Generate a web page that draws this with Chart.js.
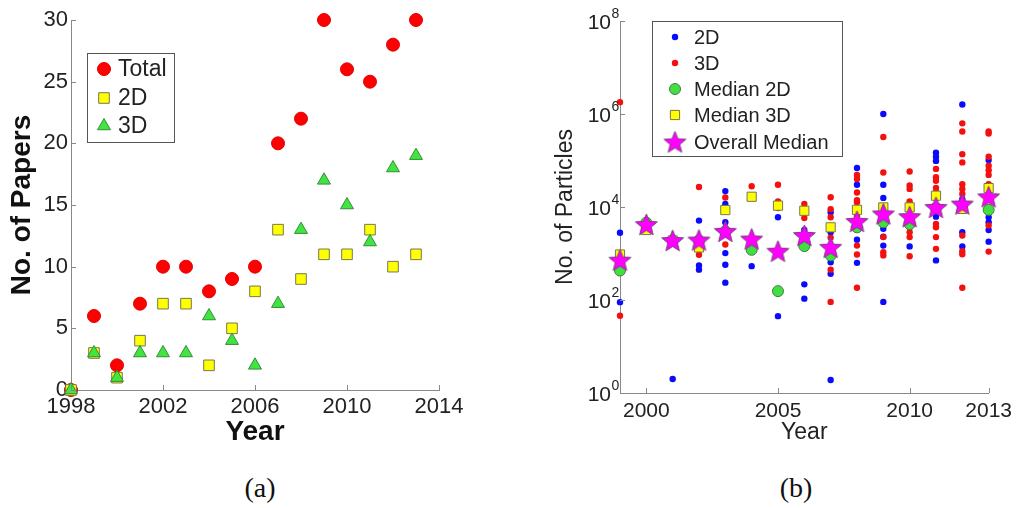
<!DOCTYPE html>
<html>
<head>
<meta charset="utf-8">
<script src="https://cdn.jsdelivr.net/npm/chart.js@4.4.1/dist/chart.umd.min.js"></script>
<style>
  html, body { margin: 0; padding: 0; background: #fff; }
  #wrap { position: relative; width: 1018px; height: 508px; overflow: hidden; background: #fff; }
  #cA { position: absolute; left: 0; top: 0; }
  #cB { position: absolute; left: 520px; top: 0; }
  .cap { position: absolute; top: 472px; width: 80px; text-align: center;
         font-family: 'Liberation Serif', 'Times New Roman', serif; font-size: 28px; color: #111; }
</style>
</head>
<body>
<div id="wrap">
  <canvas id="cA" width="500" height="470"></canvas>
  <canvas id="cB" width="498" height="470"></canvas>
  <div class="cap" style="left:220px">(a)</div>
  <div class="cap" style="left:756px">(b)</div>
</div>
<script>
// ---- (a) number of papers per year ----
const paperYears  = [1998, 1999, 2000, 2001, 2002, 2003, 2004, 2005, 2006, 2007, 2008, 2009, 2010, 2011, 2012, 2013];
const papersTotal = [0, 6, 2, 7, 10, 10, 8, 9, 10, 20, 22, 30, 26, 25, 28, 30];
const papers2D    = [0, 3, 1, 4, 7, 7, 2, 5, 8, 13, 9, 11, 11, 13, 10, 11];
const papers3D    = [0, 3, 1, 3, 3, 3, 6, 4, 2, 7, 13, 17, 15, 12, 18, 19];
const yearTicksA  = [1998, 2002, 2006, 2010, 2014];
const paperTicks  = [0, 5, 10, 15, 20, 25, 30];

// ---- (b) number of particles per paper, by year ----
const particleYears = [1999, 2000, 2001, 2002, 2003, 2004, 2005, 2006, 2007, 2008, 2009, 2010, 2011, 2012, 2013];
const particles2D = [
  [2800, 90],
  [],
  [2],
  [5100, 550, 450],
  [22000, 11600, 4700, 1020, 575, 236],
  [535],
  [6000, 45],
  [3200, 217, 107],
  [7700, 2860, 650, 365, 1.9],
  [69000, 30000, 1970, 630],
  [1000000, 30000, 15700, 3400, 2300, 1480, 91],
  [1420],
  [148000, 120000, 98000, 6200, 710],
  [1600000, 14800, 2860, 1420],
  [102000, 6000, 4700, 3200, 1800]
];
const particles3D = [
  [1800000, 46],
  [],
  [],
  [27000, 940],
  [16000, 1560],
  [28000],
  [30000, 13200, 9500],
  [11600, 9000, 5800],
  [16200, 9000, 6000, 2200, 450, 91],
  [49000, 40000, 20500, 14000, 12600, 6500, 1480, 950, 184],
  [320000, 55000, 9800, 2250, 1060, 910],
  [58000, 29000, 24500, 13200, 11600, 3650, 2860, 2250, 870],
  [66000, 43500, 36500, 25800, 21000, 4300, 3650, 2250, 1260],
  [630000, 420000, 137000, 91000, 31000, 24500, 19000, 2440, 1120, 960, 184],
  [420000, 380000, 120000, 77000, 62000, 49000, 31000, 4000, 1100]
];
const median2D  = [430, 4600, 1900, 1900, 3000, 1200, 155, 1440, 910, 3650, 4700, 4300, 9500, 11000, 8700];
const median3D  = [950, 3200, 1900, 1350, 8600, 16600, 10700, 8300, 3650, 8700, 9800, 9800, 17500, 9100, 25500];
const medianAll = [720, 4200, 1900, 1950, 3000, 2050, 1120, 2440, 1360, 4900, 7100, 6200, 9800, 11600, 16600];
const yearTicksB = [2000, 2005, 2010, 2013];
const particleTickExps = [0, 2, 4, 6, 8];

const FONT = "'Liberation Sans', Arial, sans-serif";
Chart.defaults.font.family = FONT;
Chart.defaults.color = '#222';

// filled five-pointed star used as a point glyph
function makeStar(R, ratio, fill, stroke) {
  const size = Math.ceil(2 * R + 4);
  const c = document.createElement('canvas');
  c.width = size; c.height = size;
  const g = c.getContext('2d');
  const cx = size / 2, cy = size / 2 + R * 0.08;
  g.beginPath();
  for (let i = 0; i < 10; i++) {
    const a = -Math.PI / 2 + i * Math.PI / 5;
    const rr = (i % 2) ? R * ratio : R;
    g.lineTo(cx + rr * Math.cos(a), cy + rr * Math.sin(a));
  }
  g.closePath();
  g.fillStyle = fill; g.fill();
  g.lineWidth = 1; g.strokeStyle = stroke; g.stroke();
  return c;
}
const starGlyph = makeStar(11.5, 0.44, '#ff00ff', '#7a3f7a');

// marker drawing for the boxed legends, mirrors the dataset point styles
function drawMarker(ctx, ds, x, y) {
  const style = ds.pointStyle, r = ds.pointRadius;
  ctx.save();
  if (style instanceof HTMLCanvasElement) {
    ctx.drawImage(style, x - style.width / 2, y - style.height / 2);
    ctx.restore();
    return;
  }
  ctx.fillStyle = ds.backgroundColor;
  ctx.strokeStyle = ds.borderColor;
  ctx.lineWidth = ds.borderWidth || 0;
  ctx.beginPath();
  if (style === 'rect') {
    const s = r * Math.SQRT1_2;
    ctx.rect(x - s, y - s, 2 * s, 2 * s);
  } else if (style === 'triangle') {
    ctx.moveTo(x, y - r);
    ctx.lineTo(x + 0.866 * r, y + 0.5 * r);
    ctx.lineTo(x - 0.866 * r, y + 0.5 * r);
    ctx.closePath();
  } else {
    ctx.arc(x, y, r, 0, Math.PI * 2);
  }
  ctx.fill();
  if (ds.borderWidth) ctx.stroke();
  ctx.restore();
}

const boxLegend = {
  id: 'boxLegend',
  afterDraw(chart, args, o) {
    if (!o || !o.rows) return;
    const ctx = chart.ctx;
    ctx.save();
    ctx.fillStyle = '#fff';
    ctx.fillRect(o.x, o.y, o.w, o.h);
    ctx.strokeStyle = '#555';
    ctx.lineWidth = 1;
    ctx.strokeRect(o.x + 0.5, o.y + 0.5, o.w, o.h);
    chart.data.datasets.forEach((ds, i) => {
      const y = o.rows[i];
      drawMarker(ctx, ds, o.markerX, y);
      ctx.fillStyle = '#222';
      ctx.font = o.font;
      ctx.textAlign = 'left';
      ctx.textBaseline = 'middle';
      ctx.fillText(ds.label, o.textX, y + 1);
    });
    ctx.restore();
  }
};

// short tick marks pointing into the plot area
const innerTicks = {
  id: 'innerTicks',
  afterDatasetsDraw(chart, args, o) {
    const ctx = chart.ctx, len = o.len || 5;
    const xs = chart.scales.x, ys = chart.scales.y;
    ctx.save();
    ctx.strokeStyle = o.color || '#888';
    ctx.lineWidth = 1;
    ctx.beginPath();
    xs.ticks.forEach(t => {
      const px = Math.round(xs.getPixelForValue(t.value)) + 0.5;
      ctx.moveTo(px, xs.top); ctx.lineTo(px, xs.top - len);
    });
    ys.ticks.forEach(t => {
      const py = Math.round(ys.getPixelForValue(t.value)) + 0.5;
      ctx.moveTo(ys.right, py); ctx.lineTo(ys.right + len, py);
    });
    ctx.stroke();
    ctx.restore();
  }
};

// "10^n" labels for the logarithmic axis
const powerLabels = {
  id: 'powerLabels',
  afterDraw(chart, args, o) {
    if (!o || !o.exps) return;
    const s = chart.scales.y, ctx = chart.ctx;
    ctx.save();
    ctx.fillStyle = '#222';
    ctx.textBaseline = 'alphabetic';
    o.exps.forEach(e => {
      const y = s.getPixelForValue(Math.pow(10, e));
      const xr = s.right - 9;
      ctx.font = '21px ' + FONT;
      ctx.textAlign = 'right';
      ctx.fillText('10', xr, y + 8);
      ctx.font = '14px ' + FONT;
      ctx.textAlign = 'left';
      ctx.fillText(String(e), xr + 0.5, y - 3);
    });
    ctx.restore();
  }
};

Chart.register(boxLegend, innerTicks, powerLabels);

const pts = (xs, ys) => ys.map((v, i) => ({ x: xs[i], y: v }));
const spread = (lists) => lists.flatMap((vals, i) => vals.map(v => ({ x: particleYears[i], y: v })));

// ---------- chart (a) ----------
new Chart(document.getElementById('cA'), {
  type: 'scatter',
  data: {
    datasets: [
      { label: 'Total', data: pts(paperYears, papersTotal), order: 3, clip: false,
        pointStyle: 'circle', pointRadius: 6.5, backgroundColor: '#ff0000', borderColor: '#e00000', borderWidth: 1 },
      { label: '2D', data: pts(paperYears, papers2D), order: 2, clip: false,
        pointStyle: 'rect', pointRadius: 7.5, backgroundColor: '#ffff00', borderColor: '#77774f', borderWidth: 1 },
      { label: '3D', data: pts(paperYears, papers3D), order: 1, clip: false,
        pointStyle: 'triangle', pointRadius: 7.5, backgroundColor: '#3fe63f', borderColor: '#3a8a3a', borderWidth: 1 }
    ]
  },
  options: {
    responsive: false, animation: false, events: [],
    layout: { padding: { top: 20, right: 61, left: 0, bottom: 0 } },
    plugins: {
      legend: { display: false }, tooltip: { enabled: false },
      boxLegend: { x: 87, y: 53, w: 87, h: 89, markerX: 104, textX: 118, rows: [69, 98, 126], font: '23px ' + FONT },
      innerTicks: { len: 5, color: '#888' }
    },
    scales: {
      x: {
        type: 'linear', min: 1998, max: 2014,
        afterBuildTicks: s => { s.ticks = yearTicksA.map(v => ({ value: v })); },
        afterFit: s => { s.height = 80; },
        grid: { display: false, drawTicks: false },
        border: { display: true, color: '#888', width: 1 },
        ticks: { font: { size: 22 }, color: '#222', padding: 4, maxRotation: 0, callback: v => String(v) },
        title: { display: true, text: 'Year', font: { size: 28, weight: 'bold' }, color: '#111', padding: { top: 0, bottom: 21 } }
      },
      y: {
        type: 'linear', min: 0, max: 30,
        afterBuildTicks: s => { s.ticks = paperTicks.map(v => ({ value: v })); },
        afterFit: s => { s.width = 71; },
        grid: { display: false, drawTicks: false },
        border: { display: true, color: '#888', width: 1 },
        ticks: { font: { size: 22 }, color: '#222', padding: 3 },
        title: { display: true, text: 'No. of Papers', font: { size: 28, weight: 'bold' }, color: '#111', padding: { top: 5, bottom: 0 } }
      }
    }
  }
});

// ---------- chart (b) ----------
new Chart(document.getElementById('cB'), {
  type: 'scatter',
  data: {
    datasets: [
      { label: '2D', data: spread(particles2D), order: 5, clip: false,
        pointStyle: 'circle', pointRadius: 3.2, backgroundColor: '#0a0aff', borderWidth: 0 },
      { label: '3D', data: spread(particles3D), order: 4, clip: false,
        pointStyle: 'circle', pointRadius: 3.2, backgroundColor: '#f51010', borderWidth: 0 },
      { label: 'Median 2D', data: pts(particleYears, median2D), order: 3, clip: false,
        pointStyle: 'circle', pointRadius: 5.5, backgroundColor: '#3fe03f', borderColor: '#4a7a4a', borderWidth: 1 },
      { label: 'Median 3D', data: pts(particleYears, median3D), order: 2, clip: false,
        pointStyle: 'rect', pointRadius: 6.5, backgroundColor: '#ffff00', borderColor: '#77774f', borderWidth: 1 },
      { label: 'Overall Median', data: pts(particleYears, medianAll), order: 1, clip: false,
        pointStyle: starGlyph, pointRadius: 11, backgroundColor: '#ff00ff', borderColor: '#7a3f7a', borderWidth: 1 }
    ]
  },
  options: {
    responsive: false, animation: false, events: [],
    layout: { padding: { top: 21, right: 25, left: 0, bottom: 0 } },
    plugins: {
      legend: { display: false }, tooltip: { enabled: false },
      boxLegend: { x: 132, y: 21, w: 190, h: 135, markerX: 155, textX: 174, rows: [37, 63, 89, 115, 142], font: '20px ' + FONT },
      innerTicks: { len: 5, color: '#888' },
      powerLabels: { exps: particleTickExps }
    },
    scales: {
      x: {
        type: 'linear', min: 1999, max: 2013,
        afterBuildTicks: s => { s.ticks = yearTicksB.map(v => ({ value: v })); },
        afterFit: s => { s.height = 77; },
        grid: { display: false, drawTicks: false },
        border: { display: true, color: '#888', width: 1 },
        ticks: { font: { size: 21 }, color: '#222', padding: 6, maxRotation: 0, callback: v => String(v) },
        title: { display: true, text: 'Year', font: { size: 23 }, color: '#222', padding: { top: 0, bottom: 24 } }
      },
      y: {
        type: 'logarithmic', min: 1, max: 1e8,
        afterBuildTicks: s => { s.ticks = particleTickExps.map(e => ({ value: Math.pow(10, e) })); },
        afterFit: s => { s.width = 100; },
        grid: { display: false, drawTicks: false },
        border: { display: true, color: '#888', width: 1 },
        ticks: { callback: () => '' },
        title: { display: true, text: 'No. of Particles', font: { size: 23 }, color: '#222', padding: { top: 32, bottom: 0 } }
      }
    }
  }
});
</script>
</body>
</html>
